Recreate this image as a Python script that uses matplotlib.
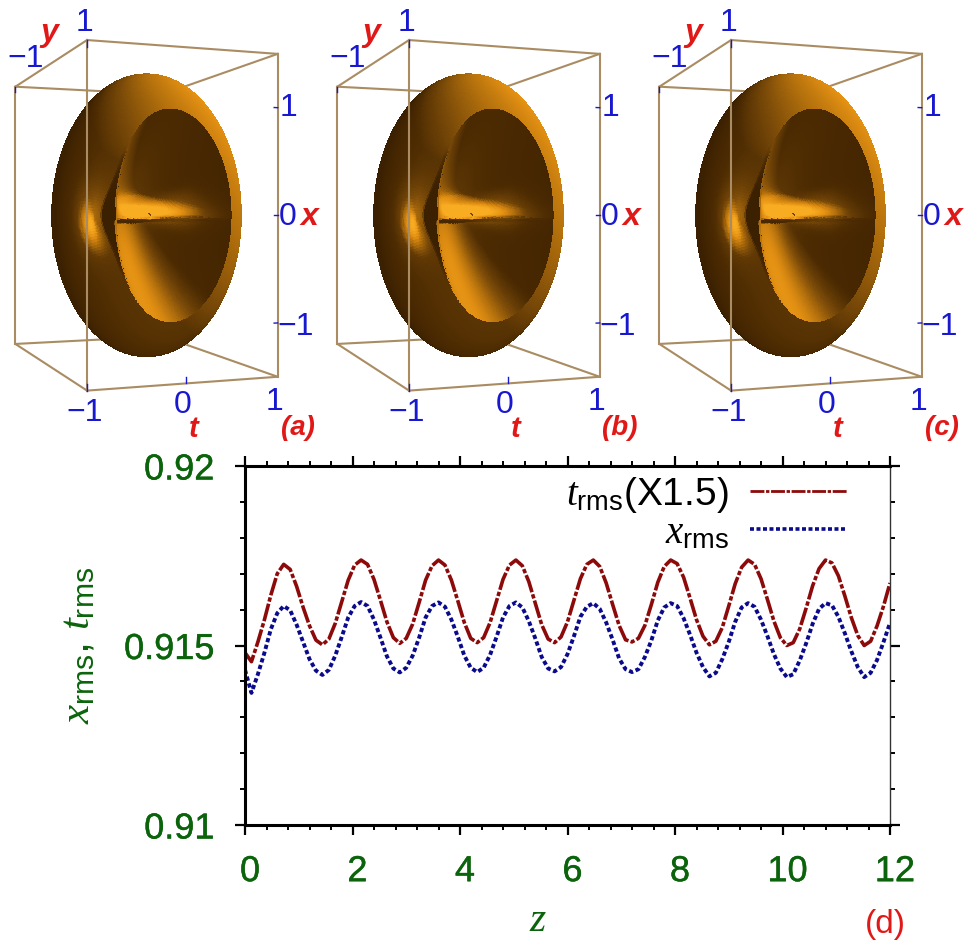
import numpy as np
import matplotlib
matplotlib.use("Agg")
import matplotlib.pyplot as plt
import matplotlib.patheffects as pe
from matplotlib.colors import LinearSegmentedColormap
from matplotlib.lines import Line2D
from matplotlib.ticker import MultipleLocator
from matplotlib.transforms import ScaledTranslation

plt.rcParams["font.family"] = ["Liberation Sans", "DejaVu Sans"]
plt.rcParams["mathtext.fontset"] = "custom"
plt.rcParams["mathtext.rm"] = "Liberation Sans"
plt.rcParams["mathtext.it"] = "Liberation Serif:italic"

W, H = 966, 944
GREEN = "#0b640b"
BLUE = "#1818d0"
RED = "#e01818"

# curve values
z_end = 12
t_rms = [0.91480, 0.91455, 0.91510, 0.91571, 0.91640, 0.91700, 0.91726, 0.91712, 0.91665, 0.91607, 0.91555, 0.91515,
         0.91502, 0.91518, 0.91562, 0.91622, 0.91682, 0.91724, 0.91738, 0.91726, 0.91684, 0.91626, 0.91566, 0.91522,
         0.91506, 0.91520, 0.91560, 0.91620, 0.91682, 0.91722, 0.91738, 0.91724, 0.91682, 0.91624, 0.91564, 0.91520,
         0.91508, 0.91522, 0.91564, 0.91624, 0.91684, 0.91724, 0.91738, 0.91722, 0.91678, 0.91618, 0.91558, 0.91518,
         0.91508, 0.91524, 0.91566, 0.91626, 0.91686, 0.91726, 0.91738, 0.91720, 0.91674, 0.91614, 0.91556, 0.91516,
         0.91510, 0.91520, 0.91556, 0.91614, 0.91676, 0.91720, 0.91738, 0.91728, 0.91690, 0.91632, 0.91572, 0.91526,
         0.91502, 0.91512, 0.91550, 0.91610, 0.91672, 0.91718, 0.91738, 0.91726, 0.91686, 0.91628, 0.91568, 0.91522,
         0.91500, 0.91508, 0.91546, 0.91604, 0.91666, 0.91714, 0.91738, 0.91730, 0.91694, 0.91638, 0.91578, 0.91528,
         0.91500, 0.91512, 0.91555, 0.91610, 0.91674]
x_rms = [0.91432, 0.91368, 0.91420, 0.91479, 0.91545, 0.91590, 0.91610, 0.91598, 0.91558, 0.91510, 0.91462, 0.91430,
         0.91418, 0.91432, 0.91472, 0.91524, 0.91578, 0.91610, 0.91621, 0.91610, 0.91572, 0.91522, 0.91470, 0.91436,
         0.91425, 0.91438, 0.91472, 0.91522, 0.91578, 0.91610, 0.91620, 0.91608, 0.91572, 0.91524, 0.91472, 0.91438,
         0.91426, 0.91438, 0.91474, 0.91524, 0.91578, 0.91610, 0.91620, 0.91606, 0.91568, 0.91520, 0.91468, 0.91436,
         0.91428, 0.91440, 0.91476, 0.91526, 0.91580, 0.91608, 0.91618, 0.91602, 0.91564, 0.91516, 0.91464, 0.91434,
         0.91426, 0.91434, 0.91468, 0.91514, 0.91570, 0.91606, 0.91618, 0.91610, 0.91576, 0.91530, 0.91480, 0.91440,
         0.91414, 0.91424, 0.91462, 0.91510, 0.91566, 0.91606, 0.91618, 0.91608, 0.91572, 0.91526, 0.91476, 0.91436,
         0.91412, 0.91420, 0.91458, 0.91506, 0.91560, 0.91602, 0.91618, 0.91612, 0.91580, 0.91534, 0.91484, 0.91440,
         0.91412, 0.91424, 0.91460, 0.91510, 0.91563]
x_ticks = [0, 2, 4, 6, 8, 10, 12]
y_ticks = [0.91, 0.915, 0.92]
y_tick_labels = ["0.91", "0.915", "0.92"]
panel_labels = ["(a)", "(b)", "(c)"]
panel_shift = [0, 322, 644]

# shape of the iso-density surface
surf_x0 = 0.17
semi_t, semi_y, semi_x = 1.06, 0.75, 1.48
dish_x0, dish_t, dish_z, dish_depth = -0.03, 0.636, 1.03, 1.0
web_height, web_up, web_down = 0.4, 0.14, 0.02
dent_t0, dent_depth = -0.72, 0.28

copper = LinearSegmentedColormap.from_list(
    "cu", ["#2e1800", "#4e2c02", "#7a4a08", "#b06e0c", "#e08e12", "#f8ac22"])


def surface():
    th = np.linspace(0, 2 * np.pi, 281)
    u_in = np.linspace(0, np.pi / 2, 90)
    u_out = np.linspace(0, np.pi / 2, 60)[1:]
    al = np.linspace(np.pi / 2, np.pi, 30)[1:]
    c, s = np.cos(th)[None, :], np.sin(th)[None, :]
    rim_x, rim_z = dish_x0 + dish_t * c, dish_z * s
    # bowl rows, then the rim out to the silhouette, then the back half
    a = np.sin(u_in)[:, None]
    x_in, z_in = dish_x0 + a * dish_t * c, a * rim_z
    b = np.sin(u_out)[:, None]
    x_out = (1 - b) * rim_x + b * semi_t * c
    z_out = (1 - b) * rim_z + b * semi_x * s
    r_b = np.sin(al)[:, None]
    x_bk, z_bk = semi_t * r_b * c, semi_x * r_b * s
    X = np.vstack([x_in, x_out, x_bk])
    Z = np.vstack([z_in, z_out, z_bk])
    r2 = np.clip((X / semi_t) ** 2 + (Z / semi_x) ** 2, 0, 1)
    Y = -semi_y * np.sqrt(1 - r2)
    n_in, n_out = len(u_in), len(u_out)
    Y[n_in + n_out:] *= -1
    # bowl on the front side with a horizontal web across it
    zw = np.where(Z > -0.03, web_up, web_down)
    web = web_height * np.exp(-((Z + 0.03) / zw) ** 2) * np.exp(-(X / 0.8) ** 6)
    bowl = dish_depth * (1 - a[:, 0] ** 2)[:, None] ** 1.0
    Y[:n_in] += bowl * (1 - web[:n_in])
    # dent on the left flank
    dent = np.exp(-((X - dent_t0) / 0.17) ** 2 - (Z / 0.3) ** 2)
    Y[n_in:n_in + n_out] += dent_depth * dent[n_in:n_in + n_out]
    # shading from the normals
    da = np.stack([np.gradient(p, axis=0) for p in (X, Y, Z)], -1)
    dt = np.stack([np.gradient(p, axis=1) for p in (X, Y, Z)], -1)
    n = np.cross(da, dt)
    n /= np.linalg.norm(n, axis=-1, keepdims=True) + 1e-12
    light = np.array([0.65, -0.3, 0.7])
    light /= np.linalg.norm(light)
    lam = 0.72 * np.clip(n @ light, 0, 1) + 0.28 * np.clip(-n[..., 1], 0, 1)
    # glow along the web, wider at its right end
    wide = 0.07 + 0.12 * np.clip((X + 0.1) / 0.5, 0, 1) ** 2
    glow = np.exp(-((Z - 0.04) / wide) ** 2) * np.exp(-((X - 0.0) / 0.45) ** 4)
    lam[:n_in] += 0.5 * glow[:n_in]
    lam[n_in:n_in + n_out] += 0.35 * dent[n_in:n_in + n_out]
    return X + surf_x0, Y, Z, copper(np.clip(0.08 + 0.92 * lam ** 1.2, 0, 1))


def box_panel(fig, shift, label, surf):
    size = 420
    cx, cy = 126 + shift, 221
    ax = fig.add_axes([(cx - size / 2) / W, 1 - (cy + size / 2) / H, size / W, size / H],
                      projection="3d", computed_zorder=False)
    ax.set_proj_type("persp", focal_length=0.38)
    ax.view_init(elev=0, azim=-110, roll=0)
    ax.set_xlim(-1, 1)
    ax.set_ylim(-1, 1)
    ax.set_zlim(-1.5, 1.5)
    ax.set_box_aspect((1.85, 2.85, 3), zoom=1.0)
    ax.set_axis_off()
    ax.patch.set_alpha(0)

    c = "#a98c62"
    back = [([-1, 1], [1, 1]), ([1, 1], [-1, 1])]
    front = [([-1, -1], [-1, 1]), ([-1, 1], [-1, -1])]
    for zz in (-1.5, 1.5):
        for xs, ys in back:
            ax.plot(xs, ys, [zz, zz], color=c, lw=1.5, zorder=1)
        for xs, ys in front:
            ax.plot(xs, ys, [zz, zz], color=c, lw=1.5, zorder=3)
    for xx, yy in [(-1, 1), (1, -1), (-1, -1)]:
        ax.plot([xx, xx], [yy, yy], [-1.5, 1.5], color=c, lw=1.5, zorder=3)
    X, Y, Z, col = surf
    ax.plot_surface(X, Y, Z, facecolors=col, rcount=X.shape[0], ccount=X.shape[1],
                    shade=False, linewidth=0, antialiased=False, zorder=2)
    # small blue tick marks on the box edges
    for zz in (-1, 0, 1):
        ax.plot([1, 0.96], [-1, -1], [zz, zz], color=BLUE, lw=1, zorder=4)
    ax.plot([0, 0], [-1, -1], [-1.5, -1.44], color=BLUE, lw=1, zorder=4)
    ax.plot([-1, -1], [-1, -1], [1.5, 1.44], color=BLUE, lw=1, zorder=4)
    ax.plot([-1, -1], [-1, -1], [-1.5, -1.44], color=BLUE, lw=1, zorder=4)
    ax.plot([-1, -1], [1, 1], [1.5, 1.44], color=BLUE, lw=1, zorder=4)

    def txt(px, py, s, color=BLUE, size=23, **kw):
        fig.text((px + shift) / W, 1 - py / H, s, color=color, fontsize=size,
                 ha="center", va="center", **kw)

    txt(85, 23, "1")
    txt(26, 59, "\u22121")
    txt(288, 108, "1")
    txt(288, 217, "0")
    txt(296, 327, "\u22121")
    txt(85, 413, "\u22121")
    txt(183, 405, "0")
    txt(275, 402, "1")
    red = dict(color=RED, weight="bold", style="italic")
    txt(49, 33, "y", **red)
    txt(309, 217, "x", **red)
    txt(194, 429, "t", size=21, **red)
    txt(298, 428, label, color=RED, size=20, weight="bold", style="italic")


fig = plt.figure(figsize=(W / 100, H / 100), dpi=100)
surf = surface()
for shift, label in zip(panel_shift, panel_labels):
    box_panel(fig, shift, label, surf)

ax = fig.add_axes([245 / W, 1 - 825 / H, 645 / W, 359 / H])
z = np.linspace(0, z_end, len(t_rms))
ax.plot(z, t_rms, color="#8c0a0a", lw=2.6, ls=(0, (5, 0.6, 1.2, 0.6)))
ax.plot(z, x_rms, color="#0a0a8c", lw=2.8, ls=(0, (1.1, 0.7)))
ax.set_xlim(0, 12)
ax.set_ylim(0.91, 0.92)
ax.set_xticks(x_ticks)
ax.set_yticks(y_ticks)
ax.set_yticklabels(y_tick_labels)
ax.xaxis.set_minor_locator(MultipleLocator(0.4))
ax.yaxis.set_minor_locator(MultipleLocator(0.001))
ax.tick_params(which="major", direction="out", length=7, width=1.6, top=True, right=True,
               labelcolor=GREEN, labelsize=26)
ax.tick_params(which="minor", direction="out", length=3.5, width=1.4, top=True, right=True)
ax.tick_params(axis="x", which="major", pad=14)
ax.tick_params(axis="y", which="major", pad=15)
stroke = [pe.withStroke(linewidth=0.3, foreground=GREEN)]
for lab in ax.get_xticklabels() + ax.get_yticklabels():
    lab.set_path_effects(stroke)
offset = ScaledTranslation(5 / 100, 0, fig.dpi_scale_trans)
for lab in ax.get_xticklabels():
    lab.set_transform(lab.get_transform() + offset)
for side in ("left", "top", "bottom"):
    ax.spines[side].set_linewidth(2.2)
ax.spines["right"].set_linewidth(1.0)
ax.spines["right"].set_color("#333333")

h1 = Line2D([], [], color="#8c0a0a", lw=2.0, ls=(0, (5, 0.6, 1.2, 0.6)))
h2 = Line2D([], [], color="#0a0a8c", lw=2.6, ls=(0, (1.1, 0.7)))
ax.legend([h1, h2], ["$t_{\\mathrm{rms}}$(X1.5)", "$x_{\\mathrm{rms}}$"],
          loc="upper right", bbox_to_anchor=(0.97, 1.04), frameon=False, markerfirst=False,
          fontsize=28, handlelength=2.5, handletextpad=0.55, labelspacing=0.0, borderpad=0.1)

fig.text(78 / W, 1 - 645 / H, "$x_{\\mathrm{rms}},\\,t_{\\mathrm{rms}}$", color=GREEN,
         fontsize=31, rotation=90, ha="center", va="center")
fig.text(538 / W, 1 - 920 / H, "$z$", color=GREEN, fontsize=30, ha="center", va="center")
fig.text(885 / W, 1 - 924 / H, "(d)", color=RED, fontsize=24, ha="center", va="center")

fig.savefig("out.png", dpi=100)
